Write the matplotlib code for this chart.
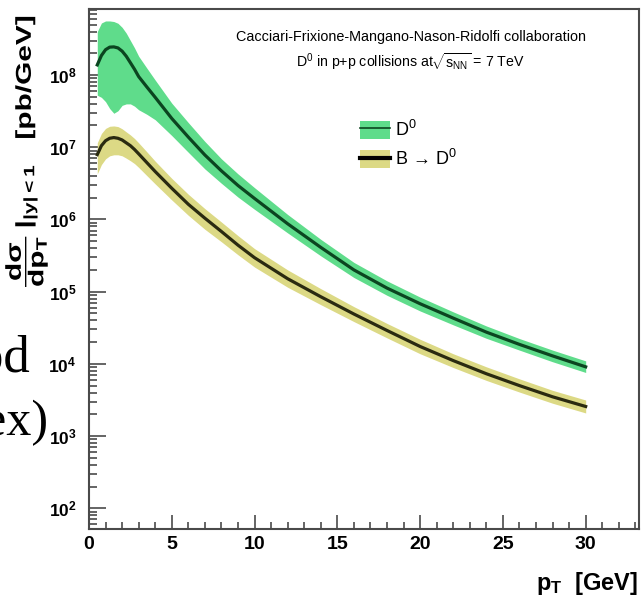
import numpy as np
import matplotlib.pyplot as plt
from matplotlib.ticker import MultipleLocator, LogLocator, NullFormatter
from matplotlib.patches import Patch, PathPatch
from matplotlib.lines import Line2D
from matplotlib.textpath import TextPath
from matplotlib.font_manager import FontProperties
from matplotlib.transforms import Affine2D

plt.rcParams['font.family'] = ['Liberation Sans', 'DejaVu Sans']
plt.rcParams['font.weight'] = 'bold'
plt.rcParams['mathtext.fontset'] = 'custom'
plt.rcParams['mathtext.rm'] = 'Liberation Sans:regular'
plt.rcParams['mathtext.it'] = 'Liberation Sans:italic'
plt.rcParams['mathtext.bf'] = 'Liberation Sans:bold'
plt.rcParams['mathtext.default'] = 'bf'

# FONLL pT grid [GeV]
pt = [0.5, 0.75, 1.0, 1.25, 1.5, 1.75, 2.0, 2.25, 2.5, 2.75, 3.0, 3.5, 4.0, 5.0, 6.0, 7.0,
      8.0, 9.0, 10.0, 12.0, 14.0, 16.0, 18.0, 20.0, 22.0, 24.0, 26.0, 28.0, 30.0]

# prompt D0: central value and uncertainty band [pb/GeV]
d0_central = [1.38e8, 1.86e8, 2.24e8, 2.43e8, 2.45e8, 2.37e8, 2.14e8, 1.82e8, 1.48e8, 1.2e8,
              9.5e7, 6.8e7, 4.9e7, 2.5e7, 1.38e7, 7.8e6, 4.7e6, 2.95e6, 1.95e6, 8.7e5, 4.1e5,
              2.0e5, 1.12e5, 6.8e4, 4.3e4, 2.75e4, 1.86e4, 1.29e4, 9.1e3]
d0_high = [3.98e8, 5.25e8, 5.6e8, 5.6e8, 5.5e8, 5.2e8, 4.57e8, 3.8e8, 3.0e8, 2.37e8, 1.82e8,
           1.24e8, 8.5e7, 4.07e7, 2.19e7, 1.2e7, 6.9e6, 4.27e6, 2.75e6, 1.17e6, 5.3e5, 2.54e5,
           1.41e5, 8.4e4, 5.25e4, 3.35e4, 2.24e4, 1.55e4, 1.1e4]
d0_low = [5.25e7, 4.9e7, 4.27e7, 3.43e7, 2.95e7, 3.2e7, 3.8e7, 3.98e7, 3.98e7, 3.7e7, 3.3e7,
          2.85e7, 2.4e7, 1.45e7, 8.5e6, 5.0e6, 3.16e6, 2.04e6, 1.38e6, 6.5e5, 3.13e5, 1.57e5,
          8.9e4, 5.4e4, 3.47e4, 2.26e4, 1.55e4, 1.07e4, 7.6e3]

# B -> D0 feed-down
b_central = [7.9e6, 1.05e7, 1.23e7, 1.33e7, 1.36e7, 1.33e7, 1.26e7, 1.15e7, 1.05e7, 9.3e6,
             8.1e6, 6.1e6, 4.6e6, 2.7e6, 1.62e6, 1.04e6, 6.8e5, 4.4e5, 2.95e5, 1.51e5, 8.5e4,
             4.9e4, 2.9e4, 1.74e4, 1.11e4, 7.3e3, 5.0e3, 3.5e3, 2.57e3]
b_high = [1.15e7, 1.55e7, 1.82e7, 1.95e7, 1.97e7, 1.93e7, 1.8e7, 1.63e7, 1.48e7, 1.32e7,
          1.15e7, 8.6e6, 6.4e6, 3.7e6, 2.23e6, 1.41e6, 9.2e5, 5.96e5, 3.94e5, 2.0e5, 1.1e5,
          6.2e4, 3.63e4, 2.19e4, 1.38e4, 9.1e3, 6.2e3, 4.3e3, 3.16e3]
b_low = [4.27e6, 5.75e6, 6.9e6, 7.6e6, 7.85e6, 7.85e6, 7.6e6, 7.05e6, 6.5e6, 5.93e6, 5.25e6,
         4.03e6, 3.1e6, 1.86e6, 1.14e6, 7.3e5, 4.9e5, 3.24e5, 2.19e5, 1.15e5, 6.6e4, 3.85e4,
         2.29e4, 1.38e4, 8.9e3, 5.9e3, 4.07e3, 2.85e3, 2.09e3]

green_fill = '#5fdc8b'
green_line = '#0b4520'
yellow_fill = '#dcd985'
yellow_line = '#2a2a10'
frame = '#4a4a4a'

fig = plt.figure(figsize=(6.44, 5.98), dpi=100)
ax = fig.add_axes([89 / 644, 69 / 598, 550 / 644, 520 / 598])

ax.fill_between(pt, d0_low, d0_high, color=green_fill, lw=0, zorder=2)
ax.plot(pt, d0_central, color=green_line, lw=2.3, zorder=3)
ax.fill_between(pt, b_low, b_high, color=yellow_fill, lw=0, zorder=2)
ax.plot(pt, b_central, color=yellow_line, lw=2.3, zorder=3)

ax.set_yscale('log')
ax.set_xlim(0, 33.22)
ax.set_ylim(51.7, 8.2e8)
ax.set_axisbelow(True)

ax.xaxis.set_major_locator(MultipleLocator(5))
ax.xaxis.set_minor_locator(MultipleLocator(1))
ax.yaxis.set_major_locator(LogLocator(base=10, numticks=20))
ax.yaxis.set_minor_locator(LogLocator(base=10, subs=np.arange(2, 10), numticks=20))
ax.yaxis.set_minor_formatter(NullFormatter())

ax.tick_params(which='both', direction='in', top=False, right=False, color=frame, width=1.2,
               labelcolor='black')
ax.tick_params(axis='x', which='major', length=10, labelsize=14, pad=5)
ax.tick_params(axis='x', which='minor', length=5)
ax.tick_params(axis='y', which='major', length=12, labelsize=12.5, pad=9)
ax.tick_params(axis='y', which='minor', length=6)
for s in ax.spines.values():
    s.set_color(frame)
    s.set_linewidth(1.5)

# axis titles, ROOT style (aligned to the end of each axis)
fig.text(638 / 644, 1 - 597 / 598, r'$p_{T}$  [GeV]', ha='right', va='bottom',
         fontsize=17)

# y title as a path, glyphs squeezed across the baseline like the condensed ROOT font
ytitle = TextPath((0, 0), r'$\dfrac{d\sigma}{dp_{T}}\,|_{|y|<1}$   [pb/GeV]', size=21.5,
                  prop=FontProperties(family='Liberation Sans', weight='bold'))
ytitle_tr = (Affine2D().scale(1 / 72, 0.72 / 72).rotate_deg(90).translate(0.31, 3.11)
             + fig.dpi_scale_trans)
fig.add_artist(PathPatch(ytitle, transform=ytitle_tr, facecolor='black', lw=0))

fig.text(411 / 644, 1 - 37 / 598, 'Cacciari-Frixione-Mangano-Nason-Ridolfi collaboration',
         ha='center', va='center', fontsize=10.4, fontweight='normal')
fig.text(410 / 644, 1 - 62 / 598,
         r'D$^{\mathrm{0}}$ in p+p collisions at$\sqrt{\mathrm{s}_{\mathrm{NN}}}$ = 7 TeV',
         ha='center', va='center', fontsize=10.2, fontweight='normal')

handles = [(Patch(facecolor=green_fill, lw=0), Line2D([], [], color=green_line, lw=1.2)),
           (Patch(facecolor=yellow_fill, lw=0), Line2D([], [], color='black', lw=3))]
fig.legend(handles, [r'D$^{\mathrm{0}}$', r'B → D$^{\mathrm{0}}$'],
           loc='upper left', bbox_to_anchor=(360 / 644, 1 - 120 / 598), frameon=False,
           prop={'size': 13, 'weight': 'normal'}, handlelength=1.65, handleheight=1.2,
           labelspacing=0.5, handletextpad=0.3, borderpad=0, borderaxespad=0)

# overlapping slide text at the left edge
fig.text(30 / 644, 1 - 372 / 598, 'od', ha='right', va='baseline', fontsize=38,
         family='Liberation Serif', fontweight='normal')
fig.text(48 / 644, 1 - 435 / 598, 'ex)', ha='right', va='baseline', fontsize=36,
         family='Liberation Serif', fontweight='normal')

fig.savefig('out.png', dpi=100)
